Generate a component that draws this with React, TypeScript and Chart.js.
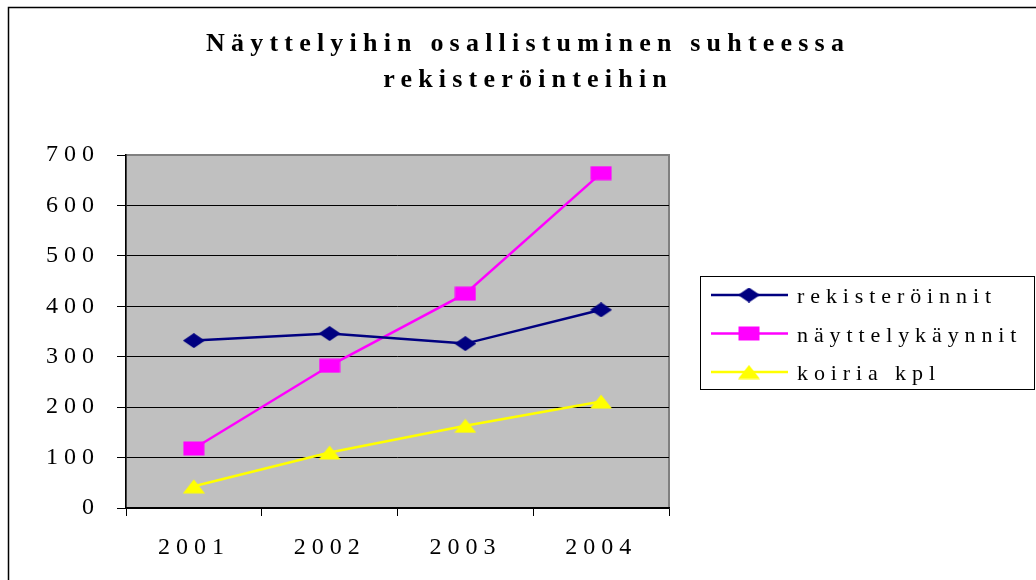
import React, { useEffect, useRef } from "react";
import { Chart, registerables } from "chart.js";

Chart.register(...registerables);

const categories = ["2001", "2002", "2003", "2004"];
const rekisteroinnit = [332, 346, 326, 393];
const nayttelykaynnit = [118, 282, 425, 664];
const koiria = [43, 110, 163, 211];
const seriesLabels = ["rekisteröinnit", "näyttelykäynnit", "koiria kpl"];
const seriesColors = ["#000080", "#FF00FF", "#FFFF00"];
const titleLines = ["Näyttelyihin osallistuminen suhteessa", "rekisteröinteihin"];
const yMin = 0;
const yMax = 700;
const yStep = 100;

const W = 1036;
const H = 580;
const SERIF = '"Liberation Serif", "Times New Roman", serif';
const TICK_SPACING = "6px";

function makeMarker(shape: string, color: string): HTMLCanvasElement {
  const c = document.createElement("canvas");
  c.width = 22;
  c.height = 15;
  const g = c.getContext("2d")!;
  g.fillStyle = color;
  g.beginPath();
  if (shape === "diamond") {
    g.moveTo(0, 7.5);
    g.lineTo(11, 0);
    g.lineTo(22, 7.5);
    g.lineTo(11, 15);
  } else if (shape === "square") {
    g.rect(0.5, 0.5, 21, 14);
  } else {
    g.moveTo(11, 0.5);
    g.lineTo(22, 14.5);
    g.lineTo(0, 14.5);
  }
  g.closePath();
  g.fill();
  return c;
}

const decorPlugin = {
  id: "decor",
  beforeLayout(chart: any) {
    chart.ctx.letterSpacing = TICK_SPACING;
  },
  beforeDraw(chart: any) {
    const { ctx, chartArea: a } = chart;
    ctx.save();
    ctx.letterSpacing = "0px";
    ctx.fillStyle = "#ffffff";
    ctx.fillRect(0, 0, chart.width, chart.height);
    // outer frame (only top and left visible)
    ctx.strokeStyle = "#000000";
    ctx.lineWidth = 1.5;
    ctx.beginPath();
    ctx.moveTo(8.5, chart.height);
    ctx.lineTo(8.5, 7.5);
    ctx.lineTo(chart.width, 7.5);
    ctx.stroke();
    // plot area
    ctx.fillStyle = "#c0c0c0";
    ctx.fillRect(a.left, a.top, a.right - a.left, a.bottom - a.top);
    ctx.strokeStyle = "#808080";
    ctx.lineWidth = 2;
    ctx.strokeRect(a.left, a.top, a.right - a.left, a.bottom - a.top);
    ctx.restore();
    ctx.letterSpacing = TICK_SPACING;
  },
  afterDraw(chart: any) {
    const { ctx } = chart;
    ctx.save();
    // title
    ctx.fillStyle = "#000000";
    ctx.font = "bold 26px " + SERIF;
    ctx.letterSpacing = "6.2px";
    ctx.textAlign = "center";
    ctx.textBaseline = "alphabetic";
    ctx.fillText(titleLines[0], 525 + 3.1, 51);
    ctx.fillText(titleLines[1], 525 + 3.1, 87);

    // legend
    ctx.letterSpacing = "0px";
    ctx.strokeStyle = "#000000";
    ctx.lineWidth = 1;
    ctx.strokeRect(700.5, 276.5, 334, 113);
    const rowY = [295, 333.5, 372];
    ctx.font = "22px " + SERIF;
    ctx.textAlign = "left";
    chart.data.datasets.forEach((ds: any, i: number) => {
      const y = rowY[i];
      ctx.letterSpacing = "0px";
      ctx.strokeStyle = ds.borderColor;
      ctx.lineWidth = 2.5;
      ctx.beginPath();
      ctx.moveTo(711, y);
      ctx.lineTo(788, y);
      ctx.stroke();
      const m = ds.pointStyle as HTMLCanvasElement;
      ctx.drawImage(m, 749 - m.width / 2, y - m.height / 2);
      ctx.letterSpacing = "5.9px";
      ctx.fillStyle = "#000000";
      ctx.fillText(ds.label, 797, y + 8);
    });
    ctx.restore();
  },
};

export default function App() {
  const ref = useRef<HTMLCanvasElement | null>(null);

  useEffect(() => {
    document.body.style.margin = "0";
    const canvas = ref.current!;
    const markers = [
      makeMarker("diamond", seriesColors[0]),
      makeMarker("square", seriesColors[1]),
      makeMarker("triangle", seriesColors[2]),
    ];
    const values = [rekisteroinnit, nayttelykaynnit, koiria];
    const chart = new Chart(canvas, {
      type: "line",
      data: {
        labels: categories,
        datasets: values.map((v, i) => ({
          label: seriesLabels[i],
          data: v,
          borderColor: seriesColors[i],
          backgroundColor: seriesColors[i],
          borderWidth: 2.5,
          pointStyle: markers[i] as any,
          pointRadius: 8,
          tension: 0,
          fill: false,
        })),
      },
      options: {
        responsive: false,
        animation: false,
        devicePixelRatio: 1,
        layout: { padding: { top: 155, right: W - 669, bottom: 0, left: 0 } },
        plugins: {
          legend: { display: false },
          title: { display: false },
          tooltip: { enabled: false },
        },
        scales: {
          x: {
            type: "category",
            offset: true,
            grid: {
              offset: true,
              drawOnChartArea: false,
              drawTicks: true,
              tickLength: 8,
              tickColor: "#000000",
              color: "#000000",
              lineWidth: 1,
            },
            border: { display: true, color: "#000000", width: 1.5 },
            ticks: {
              color: "#000000",
              font: { family: SERIF, size: 24 },
              padding: 17,
              maxRotation: 0,
            },
            afterFit: (s: any) => {
              s.height = H - 508;
            },
          },
          y: {
            min: yMin,
            max: yMax,
            grid: {
              color: (c: any) => (c.tick && c.tick.value === yMax ? "rgba(0,0,0,0)" : "#000000"),
              tickColor: "#000000",
              lineWidth: 1,
              tickLength: 9,
            },
            border: { display: true, color: "#000000", width: 1.5 },
            ticks: {
              stepSize: yStep,
              color: "#000000",
              font: { family: SERIF, size: 24 },
              padding: 17,
            },
            afterFit: (s: any) => {
              s.width = 126;
            },
          },
        },
      },
      plugins: [decorPlugin],
    });
    return () => chart.destroy();
  }, []);

  return <canvas ref={ref} width={W} height={H} style={{ display: "block", width: W, height: H }} />;
}
